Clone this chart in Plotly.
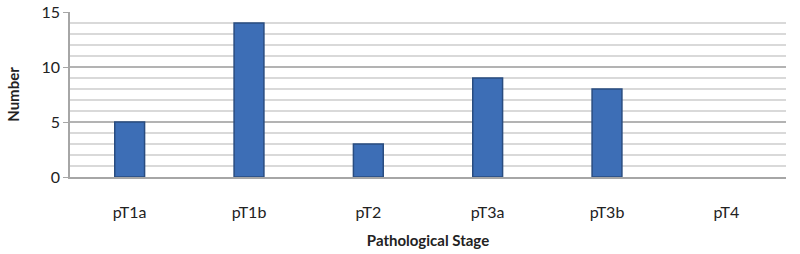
import plotly.graph_objects as go

categories = ["pT1a", "pT1b", "pT2", "pT3a", "pT3b", "pT4"]
values = [5, 14, 3, 9, 8, 0]
y_ticks = [0, 5, 10, 15]

fig = go.Figure()
fig.add_trace(go.Bar(
    x=categories, y=values, width=0.25,
    marker=dict(color="#3D6EB6",
                line=dict(color="#294C80", width=[1.5 if v > 0 else 0 for v in values])),
))
font = "Lato, Open Sans, sans-serif"
fig.update_layout(
    width=800, height=254,
    margin=dict(l=70, r=14, t=12, b=77),
    paper_bgcolor="white", plot_bgcolor="white",
    showlegend=False,
    font=dict(family=font, size=15, color="#222"),
    xaxis=dict(
        title=dict(text="<b>Pathological Stage</b>", font=dict(size=15), standoff=16),
        showline=True, linecolor="#A6A6A6", linewidth=1.5,
        ticks="", showgrid=False, ticklabelstandoff=20,
        tickfont=dict(size=16), automargin=False,
    ),
    yaxis=dict(
        title=dict(text="<b>Number</b>", font=dict(size=15), standoff=18),
        range=[0, 15], tickvals=y_ticks,
        showgrid=True, gridcolor="#B3B3B3", gridwidth=1.5,
        minor=dict(dtick=1, showgrid=True, gridcolor="#D9D9D9", gridwidth=1.5),
        showline=True, linecolor="#A6A6A6", linewidth=1.5,
        ticks="outside", ticklen=5, tickcolor="#A6A6A6",
        tickfont=dict(size=16), automargin=False,
        ticklabeloverflow="allow",
        zeroline=False,
    ),
)
fig.write_html("out.html", config={"displayModeBar": False},
               post_script="document.body.style.margin='0';")
